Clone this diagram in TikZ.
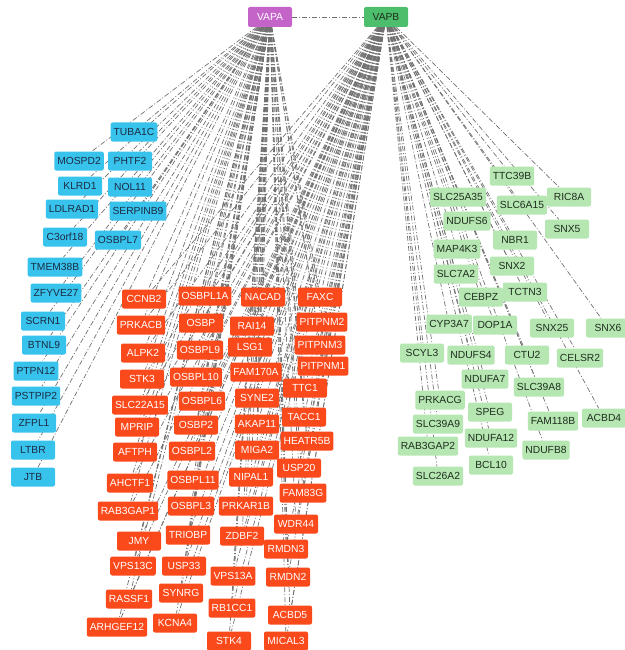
\documentclass[tikz,border=0pt]{standalone}
\usepackage{fontspec}
\setmainfont{Liberation Sans}
\usetikzlibrary{backgrounds}
\definecolor{bluefill}{HTML}{38C3EC}
\definecolor{bluetext}{HTML}{1B2B45}
\definecolor{redfill}{HTML}{FA4A1C}
\definecolor{greenfill}{HTML}{B6E6B2}
\definecolor{greentext}{HTML}{1E2E1E}
\definecolor{vapafill}{HTML}{C463C8}
\definecolor{vapbfill}{HTML}{4DBE6C}
\definecolor{edgecol}{HTML}{707070}
\tikzset{
  gene/.style={rounded corners=2pt, minimum width=44pt, minimum height=19pt, inner xsep=3pt, inner ysep=1pt, font=\fontsize{10.3}{12}\selectfont},
  bnode/.style={gene, fill=bluefill, text=bluetext},
  rnode/.style={gene, fill=redfill, text=white},
  gnode/.style={gene, fill=greenfill, text=greentext},
  hub/.style={gene, minimum height=20pt},
  edge/.style={draw=edgecol, line width=0.7pt, dash pattern=on 5pt off 2pt on 1pt off 2pt}
}
\begin{document}
\begin{tikzpicture}[x=1pt,y=-1pt]
\useasboundingbox (0,0) rectangle (624,650);
\node[hub, fill=vapafill, text=white] (VAPA) at (270,17) {VAPA};
\node[hub, fill=vapbfill, text=greentext] (VAPB) at (386,17) {VAPB};
% blue
\foreach \n/\x/\y in {TUBA1C/134/132, MOSPD2/79/161, PHTF2/130/161, KLRD1/80/186, NOL11/130/187, LDLRAD1/72/209, SERPINB9/138/211, C3orf18/65/237, OSBPL7/118/240, TMEM38B/55/267, ZFYVE27/56/293, SCRN1/43/321, BTNL9/44/345, PTPN12/36/371, PSTPIP2/36/396, ZFPL1/34/423, LTBR/33/450, JTB/33/477}
  \node[bnode] (\n) at (\x,\y) {\n};
% red
\foreach \n/\x/\y in {CCNB2/144/299, OSBPL1A/205/296, NACAD/263/297, FAXC/320/297, PRKACB/141/325, OSBP/201/323, RAI14/252/326, PITPNM2/322/322, ALPK2/143/353, OSBPL9/200/350, LSG1/250/347, PITPNM3/320/345, PITPNM1/323/366, STK3/142/379, OSBPL10/196/377, FAM170A/256/372, TTC1/305/388, SLC22A15/140/405, OSBPL6/202/401, SYNE2/257/398, TACC1/304/417, MPRIP/137/427, OSBP2/196/425, AKAP11/257/424, HEATR5B/307/441, AFTPH/135/452, OSBPL2/192/451, MIGA2/257/450, USP20/299/468, AHCTF1/130/483, OSBPL11/193/480, NIPAL1/251/477, FAM83G/303/493, RAB3GAP1/128/511, OSBPL3/191/506, PRKAR1B/246/506, WDR44/296/524, JMY/139/541, TRIOBP/188/535, ZDBF2/242/536, RMDN3/286/549, VPS13C/133/566, USP33/184/566, VPS13A/233/576, RMDN2/288/577, RASSF1/129/599, SYNRG/181/593, RB1CC1/232/608, ARHGEF12/117/627, KCNA4/175/623, ACBD5/290/615, STK4/229/641, MICAL3/286/641}
  \node[rnode] (\n) at (\x,\y) {\n};
% green
\foreach \n/\x/\y in {TTC39B/512/176, SLC25A35/458/197, SLC6A15/522/205, RIC8A/569/197, NDUFS6/467/221, SNX5/567/229, NBR1/515/240, MAP4K3/457/249, SNX2/512/266, SLC7A2/456/274, TCTN3/525/292, CEBPZ/481/297, CYP3A7/449/324, DOP1A/495/325, SNX25/552/328, SNX6/608/328, SCYL3/422/353, NDUFS4/471/355, CTU2/527/355, CELSR2/580/358, NDUFA7/485/379, SLC39A8/539/387, PRKACG/440/400, SPEG/490/412, FAM118B/553/421, ACBD4/604/418, SLC39A9/438/424, RAB3GAP2/428/446, NDUFA12/491/438, NDUFB8/546/450, BCL10/491/465, SLC26A2/438/476}
  \node[gnode] (\n) at (\x,\y) {\n};
\begin{scope}[on background layer]
\draw[edge] (VAPA) -- (VAPB);
\foreach \n in {TUBA1C, MOSPD2, PHTF2, KLRD1, NOL11, LDLRAD1, SERPINB9, C3orf18, OSBPL7, TMEM38B, ZFYVE27, SCRN1, BTNL9, PTPN12, PSTPIP2, ZFPL1, LTBR, JTB}
  \draw[edge] (VAPA) -- (\n);
\foreach \n in {CCNB2, OSBPL1A, NACAD, FAXC, PRKACB, OSBP, RAI14, PITPNM2, ALPK2, OSBPL9, LSG1, PITPNM3, PITPNM1, STK3, OSBPL10, FAM170A, TTC1, SLC22A15, OSBPL6, SYNE2, TACC1, MPRIP, OSBP2, AKAP11, HEATR5B, AFTPH, OSBPL2, MIGA2, USP20, AHCTF1, OSBPL11, NIPAL1, FAM83G, RAB3GAP1, OSBPL3, PRKAR1B, WDR44, JMY, TRIOBP, ZDBF2, RMDN3, VPS13C, USP33, VPS13A, RMDN2, RASSF1, SYNRG, RB1CC1, ARHGEF12, KCNA4, ACBD5, STK4, MICAL3}
  {\draw[edge] (VAPA) -- (\n); \draw[edge] (VAPB) -- (\n);}
\foreach \n in {TTC39B, SLC25A35, SLC6A15, RIC8A, NDUFS6, SNX5, NBR1, MAP4K3, SNX2, SLC7A2, TCTN3, CEBPZ, CYP3A7, DOP1A, SNX25, SNX6, SCYL3, NDUFS4, CTU2, CELSR2, NDUFA7, SLC39A8, PRKACG, SPEG, FAM118B, ACBD4, SLC39A9, RAB3GAP2, NDUFA12, NDUFB8, BCL10, SLC26A2}
  \draw[edge] (VAPB) -- (\n);
\end{scope}
\end{tikzpicture}
\end{document}
